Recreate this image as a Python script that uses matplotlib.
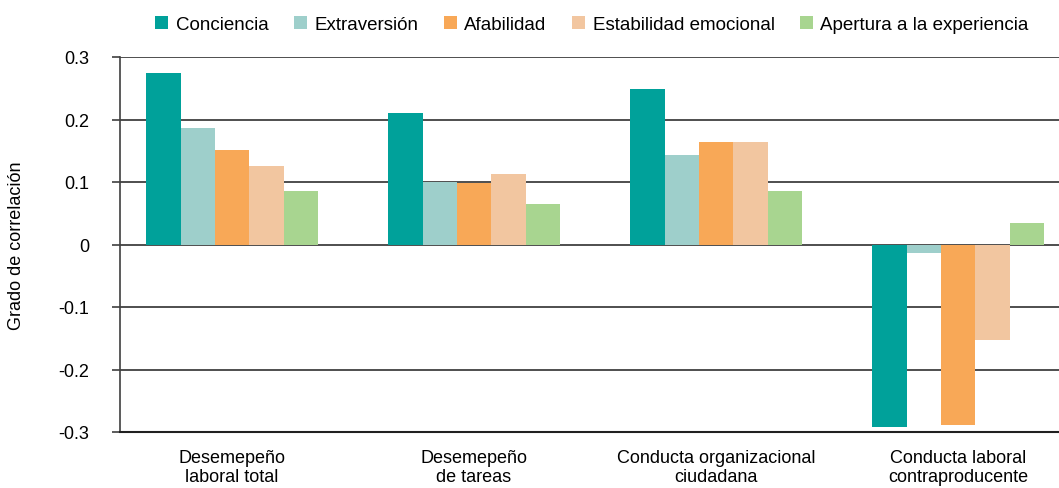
import numpy as np
import matplotlib.pyplot as plt

plt.rcParams["font.family"] = ["Liberation Sans", "DejaVu Sans"]

categories = ["Desemepeño\nlaboral total", "Desemepeño\nde tareas",
              "Conducta organizacional\nciudadana", "Conducta laboral\ncontraproducente"]
series = ["Conciencia", "Extraversión", "Afabilidad", "Estabilidad emocional",
          "Apertura a la experiencia"]
conciencia = [0.275, 0.21, 0.249, -0.292]
extraversion = [0.187, 0.10, 0.144, -0.014]
afabilidad = [0.152, 0.098, 0.164, -0.289]
estabilidad = [0.126, 0.113, 0.164, -0.152]
apertura = [0.086, 0.065, 0.086, 0.034]
colors = ["#00A19A", "#9ECFCB", "#F8A857", "#F2C6A0", "#A8D590"]

values = [conciencia, extraversion, afabilidad, estabilidad, apertura]

fig = plt.figure(figsize=(10.59, 4.89), dpi=100)
ax = fig.add_axes([120 / 1059, 1 - 433 / 489, 1 - 120 / 1059, (433 - 58) / 489])

x = np.arange(len(categories))
w = 0.142
for i, (name, vals) in enumerate(zip(series, values)):
    ax.bar(x + (i - 2) * w, vals, width=w, color=colors[i], label=name, zorder=3)

ax.set_ylim(-0.3, 0.3)
ax.set_xlim(-0.463, 3.417)
ax.set_yticks([0.3, 0.2, 0.1, 0, -0.1, -0.2, -0.3])
ax.set_yticklabels(["0.3", "0.2", "0.1", "0", "-0.1", "-0.2", "-0.3"], fontsize=13)
ax.set_xticks(x)
ax.set_xticklabels(categories, fontsize=13)
ax.tick_params(axis="x", length=0, pad=12)
ax.tick_params(axis="y", length=6, width=1.2, color="#404040", pad=16)
ax.grid(axis="y", color="#404040", linewidth=1.3, zorder=0)

for s in ["top", "right"]:
    ax.spines[s].set_visible(False)
ax.spines["left"].set_color("#404040")
ax.spines["left"].set_linewidth(1.2)
ax.spines["bottom"].set_color("#202020")
ax.spines["bottom"].set_linewidth(1.5)

ax.set_ylabel("Grado de correlación", fontsize=13, labelpad=24)

# legend across the top
fig.legend(loc="upper center", bbox_to_anchor=(0.559, 1.0), ncol=5, frameon=False,
           fontsize=13.5, handlelength=0.7, handleheight=0.7, handletextpad=0.4,
           columnspacing=1.35)

fig.savefig("out.png", dpi=100)
